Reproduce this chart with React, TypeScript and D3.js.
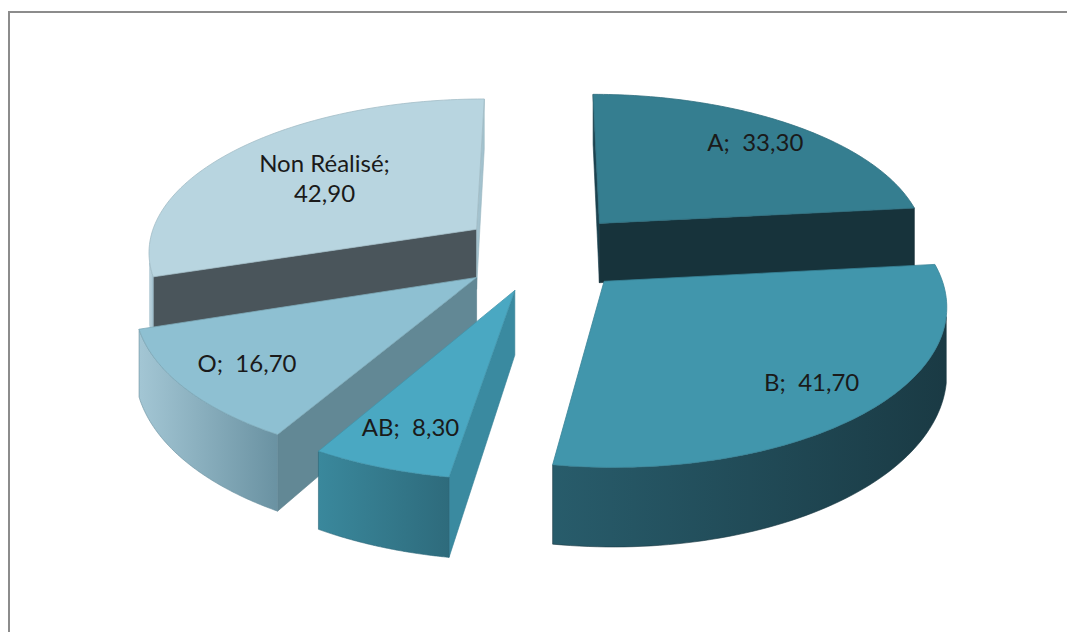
import React from "react";
import * as d3 from "d3";

// ---- data ----
const categories = ["A", "B", "AB", "O", "Non Réalisé"];
const values = [33.3, 41.7, 8.3, 16.7, 42.9];

// ---- styles ----
const topColors = ["#357e90", "#4196ac", "#4aa8c2", "#8ec0d2", "#b8d5e0"];
const startFaceColors = ["#1c4350", "#1d4753", "#3a8aa0", "#628895", "#4a555b"];
const endFaceColors = ["#17333b", "#1b3c46", "#2f6d7e", "#5c8595", "#a3c2ce"];
const rimLeftColors = ["#1f4b57", "#285c6b", "#3a889c", "#a3c6d4", "#c0d8e2"];
const rimRightColors = ["#17333b", "#1a3a44", "#2e6b7c", "#6a92a2", "#9fbecb"];
const labelRadius = [0.8, 0.8, 0.8, 0.8, 0.62];

// ---- geometry ----
const W = 1067;
const Hh = 632;
const CX = 544;
const CY = 252;
const R = 330;
const EXPL = 85;
const SIN_T = 0.464;
const Q = 4e-4;
const DEPTH = 61.6;

type P = { x: number; y: number; hb: number };
function proj(X: number, Y: number): P {
  const k = 1 / (1 + Q * Y);
  return { x: CX + X * k, y: CY - SIN_T * Y * k, hb: DEPTH * Math.pow(k, 1.5) };
}
const line = d3.line<[number, number]>();
function poly(pts: [number, number][]) {
  return (line(pts) || "") + "Z";
}
const fmt = (v: number) => d3.format(".2f")(v).replace(".", ",");

export default function App() {
  const pie = d3.pie<number>().sort(null).startAngle(0).endAngle(2 * Math.PI);
  const arcs = pie(values);
  const cosT = Math.sqrt(1 - SIN_T * SIN_T);
  const D = cosT / Q;
  const cam = [0, -D * cosT];

  const slices = arcs.map((a, i) => {
    const a0 = a.startAngle;
    const a1 = a.endAngle;
    const mid = (a0 + a1) / 2;
    const ox = EXPL * Math.sin(mid);
    const oy = EXPL * Math.cos(mid);
    const rimPt = (t: number) => proj(ox + R * Math.sin(t), oy + R * Math.cos(t));
    const c = proj(ox, oy);
    const N = 80;
    const ts = d3.range(N + 1).map((j) => a0 + ((a1 - a0) * j) / N);
    const rimPts = ts.map(rimPt);
    const topPath = poly([[c.x, c.y], ...rimPts.map((p) => [p.x, p.y] as [number, number])]);

    // radial faces
    const vis = (nx: number, ny: number) => nx * (cam[0] - ox) + ny * (cam[1] - oy) > 0;
    const faceQuad = (t: number) => {
      const r = rimPt(t);
      return poly([
        [c.x, c.y],
        [r.x, r.y],
        [r.x, r.y + r.hb],
        [c.x, c.y + c.hb],
      ]);
    };
    const startVis = vis(-Math.cos(a0), Math.sin(a0));
    const endVis = vis(Math.cos(a1), -Math.sin(a1));

    // outer rim visible part
    const visT = ts.filter(
      (t) => Math.sin(t) * (cam[0] - ox) + Math.cos(t) * (cam[1] - oy) - R > 0
    );
    let rimPath: string | null = null;
    if (visT.length > 1) {
      const tp = visT.map(rimPt);
      const pts: [number, number][] = [
        ...tp.map((p) => [p.x, p.y] as [number, number]),
        ...tp
          .slice()
          .reverse()
          .map((p) => [p.x, p.y + p.hb] as [number, number]),
      ];
      rimPath = poly(pts);
    }

    const lr = labelRadius[i] * R;
    const lp = proj(ox + lr * Math.sin(mid), oy + lr * Math.cos(mid));
    return {
      i,
      depth: oy,
      topPath,
      startPath: startVis ? faceQuad(a0) : null,
      endPath: endVis ? faceQuad(a1) : null,
      rimPath,
      label: lp,
    };
  });

  const order = slices.slice().sort((p, q) => q.depth - p.depth);
  const dark = (col: string, k: number) => d3.color(col)!.darker(k).formatHex();

  return (
    <svg
      width={W}
      height={Hh}
      style={{ position: "absolute", left: 0, top: 0, display: "block", background: "#fff" }}
    >
      <defs>
        {slices.map((s) => (
          <linearGradient key={s.i} id={`rim${s.i}`} x1="0" x2="1" y1="0" y2="0">
            <stop offset="0" stopColor={rimLeftColors[s.i]} />
            <stop offset="1" stopColor={rimRightColors[s.i]} />
          </linearGradient>
        ))}
      </defs>
      <rect x={0} y={0} width={W} height={Hh} fill="#fff" />
      <rect x={9} y={12} width={W + 20} height={Hh + 20} fill="none" stroke="#8c8c8c" strokeWidth={2} />
      {order.map((s) => (
        <g key={s.i}>
          {s.startPath && (
            <path
              d={s.startPath}
              fill={startFaceColors[s.i]}
              stroke={dark(startFaceColors[s.i], 0.2)}
              strokeWidth={0.6}
            />
          )}
          {s.endPath && (
            <path
              d={s.endPath}
              fill={endFaceColors[s.i]}
              stroke={dark(endFaceColors[s.i], 0.2)}
              strokeWidth={0.6}
            />
          )}
          {s.rimPath && (
            <path
              d={s.rimPath}
              fill={`url(#rim${s.i})`}
              stroke={dark(rimRightColors[s.i], 0.1)}
              strokeWidth={0.6}
            />
          )}
          <path d={s.topPath} fill={topColors[s.i]} stroke={dark(topColors[s.i], 0.35)} strokeWidth={0.8} />
        </g>
      ))}
      {slices.map((s) => {
        const cat = categories[s.i];
        const val = fmt(values[s.i]);
        const lines = cat.length > 6 ? [`${cat};`, val] : [`${cat};\u00a0\u00a0${val}`];
        const lh = 30;
        return (
          <text
            key={s.i}
            x={s.label.x}
            y={s.label.y}
            textAnchor="middle"
            fontFamily="Lato, 'Open Sans', sans-serif"
            fontSize={24}
            fill="#1a1a1a"
          >
            {lines.map((l, j) => (
              <tspan key={j} x={s.label.x} y={s.label.y + (j - (lines.length - 1) / 2) * lh} dy="0.35em">
                {l}
              </tspan>
            ))}
          </text>
        );
      })}
    </svg>
  );
}
